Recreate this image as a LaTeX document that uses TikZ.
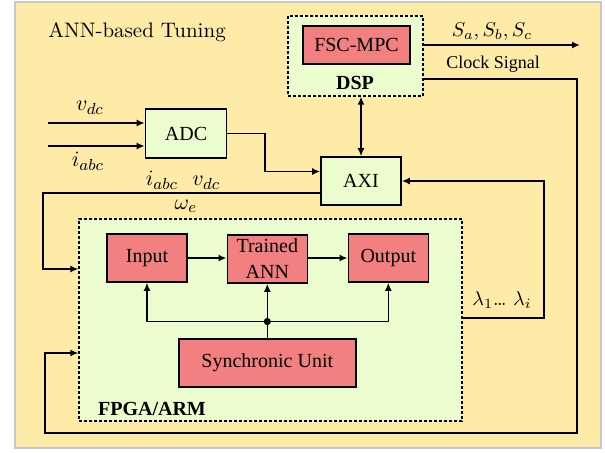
\documentclass[tikz,border=0pt]{standalone}
\usepackage{fontspec}
\newfontfamily\timesfont{Liberation Serif}
\usetikzlibrary{positioning,arrows.meta,calc}
\definecolor{annYellow}{HTML}{FFEBA8}
\definecolor{annGreen}{HTML}{EBFDCF}
\definecolor{annRed}{HTML}{F28080}
\definecolor{annFrame}{HTML}{C8C8C8}

\begin{document}
\begin{tikzpicture}[x=0.5pt,y=-0.5pt,
      block/.style={draw=black,thick,fill=annGreen,minimum width=40pt,minimum height=24pt,
                  inner sep=0pt,align=center,font=\timesfont\fontsize{10}{13}\selectfont},
      unit/.style={block,fill=annRed},
      zone/.style={draw=black,line width=0.6pt,dash pattern=on 1.5pt off 1pt,fill=annGreen,inner sep=0pt},
      sig/.style={font=\fontsize{11}{13}\selectfont},
      lbl/.style={font=\timesfont\fontsize{9}{11}\selectfont},
      tag/.style={font=\timesfont\bfseries\fontsize{10}{12}\selectfont},
      wire/.style={thick},
      arr/.style={-{Latex[length=4pt,width=3.5pt]},thick},
      biarr/.style={{Latex[length=4pt,width=3.5pt]}-{Latex[length=4pt,width=3.5pt]},thick}]
    \useasboundingbox (0,0) rectangle (605,452);
    \fill[annYellow,draw=annFrame,line width=1pt] (15,2) rectangle (601,448);
    \node[font=\fontsize{10.5}{12}\selectfont] (title) at (137,32) {ANN-based Tuning};

    % processors
    \node[zone,minimum width=67.5pt,minimum height=40pt] (dsp) at (355.5,56) {};
    \node[zone,minimum width=191.5pt,minimum height=101pt] (fpga) at (270.5,320) {};
    \node[tag] (dsplbl) at (355,83) {DSP};
    \node[tag,anchor=west] (fpgalbl) at (91,409) {FPGA/ARM};

    \node[unit,minimum width=53.5pt,minimum height=19pt] (fsc) at (356.5,45) {FSC-MPC};
    \node[block,minimum width=40.5pt,minimum height=24.5pt] (adc) at (186,133.5) {ADC};
    \node[block] (axi) at (361,181) {AXI};
    \node[unit] (inp) at (147,258) {Input};
    \node[unit] (ann) at (267.3,259) {Trained\\ANN};
    \node[unit] (out) at (388.3,258) {Output};
    \node[unit,minimum width=88.5pt] (sync) at (267.3,363) {Synchronic Unit};

    % measurements
    \coordinate (vin) at (48,123);
    \coordinate (iin) at (48,146);
    \draw[arr] (vin) -- (vin -| adc.west);
    \draw[arr] (iin) -- (iin -| adc.west);
    \node[sig] (vlbl) at (90,108) {$v_{dc}$};
    \node[sig] (ilbl) at (88,161) {$i_{abc}$};

    \coordinate (adcbend) at (265,171.5);
    \draw[arr] (adc.east) -| (adcbend) -- (adcbend -| axi.west);
    \draw[biarr] (axi.north |- dsp.south) -- (axi.north);

    \coordinate (fbk) at (43,269);
    \draw[arr] ([yshift=-6pt]axi.west) -| (fbk) -- (fbk -| fpga.west);
    \node[sig] (ivlbl) at (183,180) {$i_{abc}\ \ v_{dc}$};
    \node[sig] (welbl) at (186,206) {$\omega_e$};

    % switching signals and clock
    \coordinate (sout) at (580,45);
    \draw[arr] (fsc -| dsp.east) -- (sout);
    \node[sig,font=\fontsize{10}{12}\selectfont] (slbl) at (492,32) {$S_a, S_b, S_c$};
    \node[lbl] (clklbl) at (493,64) {Clock Signal};
    \coordinate (clktop) at (577,79);
    \coordinate (clkbot) at (45,433);
    \coordinate (clkin) at (45,353);
    \draw[arr] (clktop -| dsp.east) -- (clktop) |- (clkbot) -- (clkin) -- (clkin -| fpga.west);

    % tuned parameters
    \coordinate (lambot) at (544,318);
    \coordinate (lamtop) at (544,181);
    \draw[arr] (lambot -| fpga.east) -- (lambot) -- (lamtop) -- (lamtop -| axi.east);
    \node[sig,font=\fontsize{10}{12}\selectfont] (lamlbl) at (502,300) {$\lambda_1$\ldots\ $\lambda_i$};

    % inside the FPGA
    \draw[arr] (inp) -- (inp -| ann.west);
    \draw[arr] (ann.east |- out) -- (out);
    \coordinate (junc) at (267.3,321.5);
    \draw[wire] (sync.north) -- (junc);
    \fill (junc) circle (1.8pt);
    \draw[arr] (junc) -- (ann.south);
    \draw[arr] (junc) -| (inp.south);
    \draw[arr] (junc) -| (out.south);
  \end{tikzpicture}
\end{document}
